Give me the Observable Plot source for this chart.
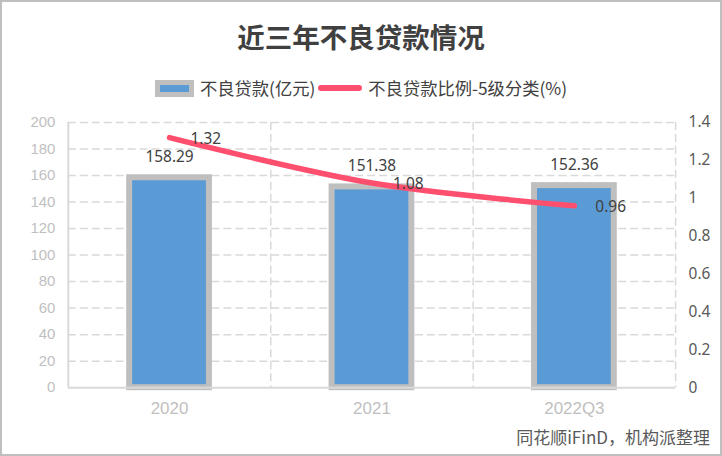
<!DOCTYPE html>
<html><head><meta charset="utf-8">
<script src="https://cdn.jsdelivr.net/npm/d3@7"></script>
<script src="https://cdn.jsdelivr.net/npm/@observablehq/plot@0.6"></script>
<style>
html,body{margin:0;padding:0;background:#fff;}
#wrap{position:relative;width:722px;height:456px;box-sizing:border-box;border:2px solid #BFBFBF;background:#fff;overflow:hidden;font-family:"Noto Sans CJK SC","Noto Sans",sans-serif;}
#title{position:absolute;left:0;width:718px;top:16px;text-align:center;font-size:27.5px;font-weight:bold;color:#404040;line-height:36px;}
#legend{position:absolute;left:0;width:718px;top:72px;text-align:center;font-size:17.3px;color:#404040;line-height:24px;white-space:nowrap;}
#legend span{display:inline-block;vertical-align:middle;}
.sw1{width:39px;height:17px;background:#BFBFBF;position:relative;margin-right:6px;}
.sw1 i{position:absolute;left:5px;right:5px;top:5px;bottom:5px;background:#5B9BD5;}
.sw2{width:44px;height:6px;border-radius:3px;background:#FF4F6E;margin:0 6px 0 3px;}
#chart{position:absolute;left:-2px;top:98px;}
#caption{position:absolute;right:10px;top:424px;font-size:17px;color:#595959;line-height:22px;}
</style></head>
<body><div id="wrap">
<div id="title">近三年不良贷款情况</div>
<div id="legend"><span class="sw1"><i></i></span><span>不良贷款(亿元)</span><span class="sw2"></span><span>不良贷款比例-5级分类(%)</span></div>
<div id="chart"></div>
<div id="caption">同花顺iFinD，机构派整理</div>
</div>
<script>
const categories = ["2020", "2021", "2022Q3"];
const badLoans = [158.29, 151.38, 152.36];
const badRatio = [1.32, 1.08, 0.96];
const leftTicks = [0, 20, 40, 60, 80, 100, 120, 140, 160, 180, 200];
const rightTicks = [0, 0.2, 0.4, 0.6, 0.8, 1, 1.2, 1.4];

const LMAX = 200, RMAX = 1.4;
const k = LMAX / RMAX;
const data = categories.map((c, i) => ({cat: c, loan: badLoans[i], ratio: badRatio[i], ry: badRatio[i] * k}));

const W = 722, ML = 68, MR = 45;
const half = (W - ML - MR) / categories.length / 2;
const dash = {stroke: "#D9D9D9", strokeWidth: 1.5, strokeDasharray: "8,4"};

const chart = Plot.plot({
  width: W,
  height: 332,
  marginLeft: ML,
  marginRight: MR,
  marginTop: 22,
  marginBottom: 44,
  x: {domain: categories, padding: 0, axis: null},
  y: {domain: [0, LMAX], axis: null},
  style: {background: "transparent"},
  marks: [
    Plot.gridY(leftTicks.slice(1), {...dash, strokeOpacity: 1}),
    Plot.ruleX(categories.slice(1), {x: d => d, dx: -half, ...dash}),
    Plot.ruleX(categories.slice(-1), {x: d => d, dx: half, ...dash}),
    Plot.ruleX(categories.slice(0, 1), {x: d => d, dx: -half, stroke: "#D9D9D9", strokeWidth: 2}),
    Plot.barY(data, {x: "cat", y: "loan", fill: "#5B9BD5", stroke: "#BFBFBF", strokeWidth: 6, insetLeft: 61.5, insetRight: 61.5}),
    Plot.ruleY([0], {stroke: "#D9D9D9", strokeWidth: 2}),
    Plot.axisY(leftTicks, {anchor: "left", tickSize: 0, tickPadding: 13, fontSize: 15, fill: "#BFBFBF", fontFamily: "Liberation Sans", label: null}),
    Plot.axisY(rightTicks.map(v => v * k), {anchor: "right", tickSize: 0, tickPadding: 13, fontSize: 15.5, fill: "#595959", fontFamily: "Noto Sans", label: null, tickFormat: v => String(+(v / k).toFixed(1))}),
    Plot.axisX(categories, {tickSize: 0, tickPadding: 14, fontSize: 17, fill: "#BFBFBF", fontFamily: "Liberation Sans", label: null}),
    Plot.line(data, {x: "cat", y: "ry", stroke: "#FF4F6E", strokeWidth: 5.5, curve: "catmull-rom", strokeLinecap: "round"}),
    Plot.text(data, {x: "cat", y: "loan", text: d => d.loan.toFixed(2), dy: -21, fontSize: 15.5, fill: "#404040", fontFamily: "Noto Sans"}),
    Plot.text(data, {x: "cat", y: "ry", text: d => String(d.ratio), dx: 21, dy: 1, textAnchor: "start", fontSize: 15.5, fill: "#404040", fontFamily: "Noto Sans"})
  ]
});
document.getElementById("chart").appendChild(chart);
</script>
</body></html>
